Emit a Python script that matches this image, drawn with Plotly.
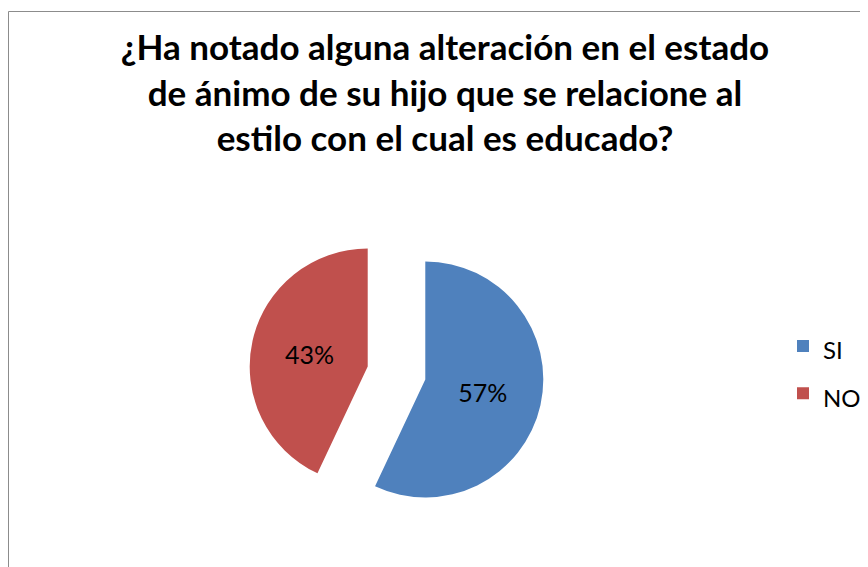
import plotly.graph_objects as go

categories = ["SI", "NO"]
values = [57, 43]
colors = ["#4F81BD", "#C0504D"]
title_lines = [
    "¿Ha notado alguna alteración en el estado",
    "de ánimo de su hijo que se relacione al",
    "estilo con el cual es educado?",
]

# the page body has an 8px margin, so the figure is sized to fit the window
W, H = 860, 559

fig = go.Figure(
    go.Pie(
        labels=[f"<span style='font-size:24px'>{c}</span>" for c in categories],
        values=values,
        sort=False,
        direction="clockwise",
        rotation=0,
        pull=[0.25, 0.25],
        marker=dict(colors=colors, line=dict(width=0)),
        textinfo="percent",
        texttemplate="%{percent:.0%}",
        textposition="inside",
        insidetextorientation="horizontal",
        textfont=dict(family="Lato", size=25, color="#000000"),
        domain=dict(x=[241 / W, 536 / W], y=[1 - 512.5 / H, 1 - 217.5 / H]),
        hoverinfo="percent",
    )
)

fig.update_layout(
    width=W,
    height=H,
    margin=dict(l=0, r=0, t=0, b=0),
    paper_bgcolor="white",
    plot_bgcolor="white",
    title=dict(
        text="<br>".join(title_lines),
        font=dict(family="Lato", size=35, color="#000000", weight="bold"),
        x=437 / W,
        xanchor="center",
        xref="paper",
        y=1 - 52 / H,
        yref="container",
        yanchor="top",
    ),
    legend=dict(
        x=775 / W,
        xanchor="left",
        y=1 - 309.5 / H,
        yanchor="top",
        valign="middle",
        font=dict(family="Lato", size=34, color="#000000"),
        bgcolor="rgba(0,0,0,0)",
        borderwidth=0,
    ),
    shapes=[
        dict(
            type="rect",
            xref="paper",
            yref="paper",
            x0=0.5 / W,
            x1=1.05,
            y0=-0.05,
            y1=1 - 3.5 / H,
            line=dict(color="#8C8C8C", width=1),
            fillcolor="rgba(0,0,0,0)",
            layer="below",
        )
    ],
)

fig.write_html("out.html")
